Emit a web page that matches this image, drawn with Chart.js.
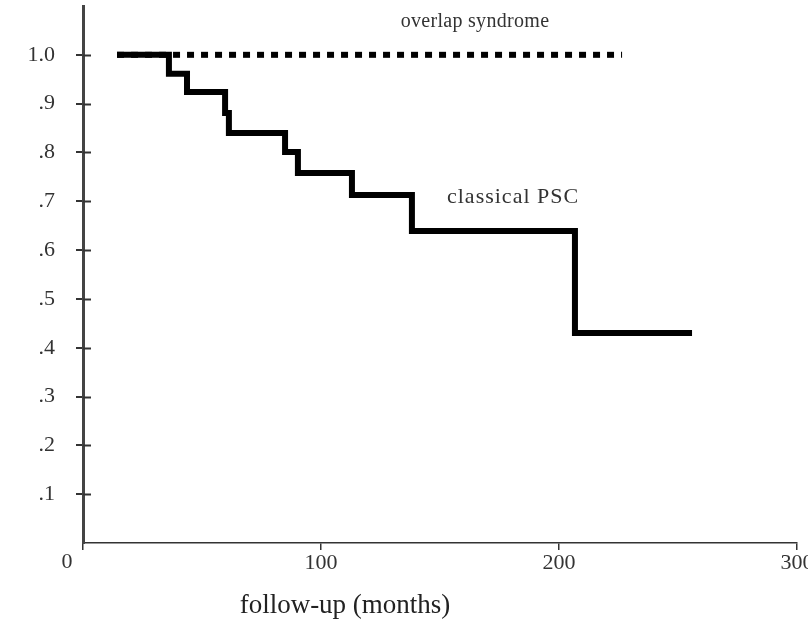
<!DOCTYPE html>
<html>
<head>
<meta charset="utf-8">
<script src="https://cdn.jsdelivr.net/npm/chart.js@4/dist/chart.umd.min.js"></script>
<style>
  html, body { margin: 0; padding: 0; background: #fff; }
  #wrap { width: 808px; height: 621px; position: relative; }
</style>
</head>
<body>
<div id="wrap"><canvas id="c" width="808" height="621"></canvas></div>
<script>
// ---- data ----
const pscMonths     = [14.3, 36.1, 43.7, 59.7, 61.3, 84.9, 90.3, 113.0, 138.2, 206.7, 255.9];
const pscSurvival   = [1.0, 0.961, 0.924, 0.881, 0.840, 0.801, 0.758, 0.713, 0.639, 0.430, 0.430];
const overlapMonths   = [14.3, 226.5];
const overlapSurvival = [1.0, 1.0];
const xTickValues = [0, 100, 200, 300];
const yTickValues = [0.1, 0.2, 0.3, 0.4, 0.5, 0.6, 0.7, 0.8, 0.9, 1.0];
const seriesLabels = ['classical PSC', 'overlap syndrome'];
const labelAnchorsX = [180.7, 164.7];
const labelAnchorsY = [0.709, 1.068];
const xAxisTitle = 'follow-up (months)';

const SERIF = '"Liberation Serif", "DejaVu Serif", serif';

function pts(xs, ys) { return xs.map((x, i) => ({ x: x, y: ys[i] })); }

const decor = {
  id: 'decor',
  afterDraw(chart) {
    const ctx = chart.ctx;
    const xs = chart.scales.x, ys = chart.scales.y;
    const left = ys.right;
    ctx.save();
    // inner half of the y ticks (ticks cross the axis)
    ctx.strokeStyle = '#333';
    ctx.lineWidth = 2;
    yTickValues.forEach(v => {
      const py = Math.round(ys.getPixelForValue(v)) + 0.5;
      ctx.beginPath();
      ctx.moveTo(left, py);
      ctx.lineTo(left + 8, py);
      ctx.stroke();
    });
    // "0" origin label, offset left as in the reference
    ctx.fillStyle = '#333';
    ctx.font = '22px ' + SERIF;
    ctx.textAlign = 'center';
    ctx.textBaseline = 'top';
    ctx.fillText('0', xs.getPixelForValue(0) - 16, xs.top + 8);
    // series labels
    ctx.textBaseline = 'middle';
    seriesLabels.forEach((t, i) => {
      ctx.font = (i === 0 ? '22px ' : '20px ') + SERIF;
      ctx.letterSpacing = i === 0 ? '1px' : '0.3px';
      ctx.fillText(t, xs.getPixelForValue(labelAnchorsX[i]), ys.getPixelForValue(labelAnchorsY[i]));
    });
    ctx.letterSpacing = '0px';
    // x axis title
    ctx.font = '27px ' + SERIF;
    ctx.fillStyle = '#222';
    ctx.fillText(xAxisTitle, 345, 606);
    ctx.restore();
  }
};

new Chart(document.getElementById('c'), {
  type: 'line',
  data: {
    datasets: [
      {
        label: seriesLabels[0],
        data: pts(pscMonths, pscSurvival),
        borderColor: '#000',
        borderWidth: 6,
        stepped: 'before',
        pointRadius: 0,
        borderJoinStyle: 'miter',
        borderCapStyle: 'butt',
        fill: false
      },
      {
        label: seriesLabels[1],
        data: pts(overlapMonths, overlapSurvival),
        borderColor: '#000',
        borderWidth: 6,
        borderDash: [7, 7],
        pointRadius: 0,
        borderCapStyle: 'butt',
        fill: false
      }
    ]
  },
  options: {
    responsive: false,
    animation: false,
    layout: { padding: { top: 6, right: 11, left: 0, bottom: 0 } },
    plugins: { legend: { display: false }, tooltip: { enabled: false } },
    scales: {
      x: {
        type: 'linear',
        min: 0, max: 300,
        afterBuildTicks(s) { s.ticks = xTickValues.map(v => ({ value: v })); },
        afterFit(s) { s.height = 78; s.paddingRight = 0; s.paddingLeft = 0; },
        grid: { drawOnChartArea: false, drawTicks: true, tickLength: 7, color: '#333', lineWidth: 1.5 },
        border: { display: true, color: '#333', width: 1.5 },
        ticks: {
          color: '#333',
          font: { family: SERIF, size: 22 },
          padding: 0,
          maxRotation: 0,
          autoSkip: false,
          callback: v => (v === 0 ? '' : String(v))
        }
      },
      y: {
        type: 'linear',
        min: 0, max: 1.1,
        afterBuildTicks(s) { s.ticks = yTickValues.map(v => ({ value: v })); },
        afterFit(s) { s.width = 83; s.paddingTop = 0; s.paddingBottom = 0; },
        grid: { drawOnChartArea: false, drawTicks: true, tickLength: 7, color: '#333', lineWidth: 2 },
        border: { display: true, color: '#444', width: 3 },
        ticks: {
          color: '#333',
          font: { family: SERIF, size: 22 },
          padding: 21,
          autoSkip: false,
          callback: v => (Math.abs(v - 1) < 1e-9 ? '1.0' : v.toFixed(1).replace(/^0/, ''))
        }
      }
    }
  },
  plugins: [decor]
});
</script>
</body>
</html>
